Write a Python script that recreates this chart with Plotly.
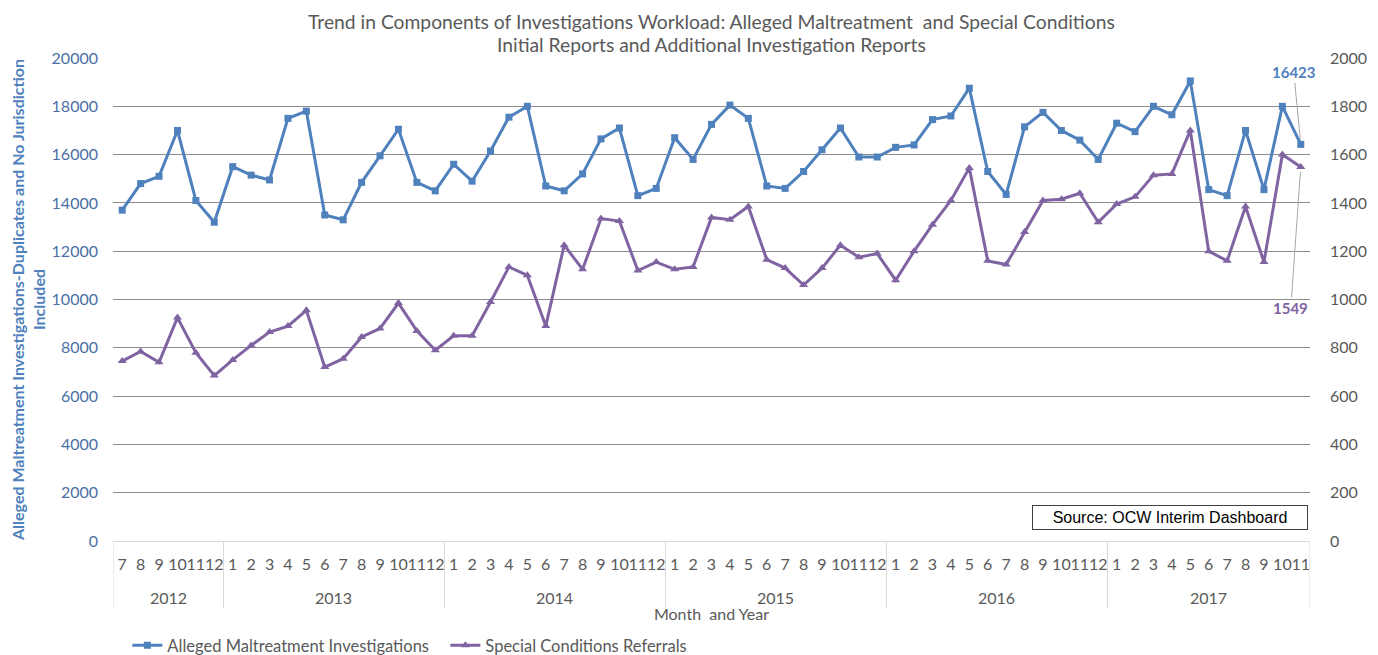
import plotly.graph_objects as go

# ── Data ──────────────────────────────────────────────────────────────────────
years = ["2012"] * 6 + ["2013"] * 12 + ["2014"] * 12 + ["2015"] * 12 + ["2016"] * 12 + ["2017"] * 11
months = [str(m) for m in list(range(7, 13)) + list(range(1, 13)) * 4 + list(range(1, 12))]

investigations = [
    13700, 14800, 15100, 17000, 14100, 13200,
    15500, 15150, 14950, 17500, 17800, 13500, 13300, 14850, 15950, 17050, 14850, 14500,
    15600, 14900, 16150, 17550, 18000, 14700, 14500, 15200, 16650, 17100, 14300, 14600,
    16700, 15800, 17250, 18050, 17500, 14700, 14600, 15300, 16200, 17100, 15900, 15900,
    16300, 16400, 17450, 17600, 18750, 15300, 14350, 17150, 17750, 17000, 16600, 15800,
    17300, 16950, 18000, 17650, 19050, 14550, 14300, 17000, 14550, 18000, 16423,
]
referrals = [
    745, 785, 740, 925, 780, 685,
    750, 810, 865, 890, 955, 720, 755, 845, 880, 985, 870, 790,
    850, 850, 990, 1135, 1100, 890, 1225, 1125, 1335, 1325, 1120, 1155,
    1125, 1135, 1340, 1330, 1385, 1165, 1130, 1060, 1130, 1225, 1175, 1190,
    1080, 1200, 1310, 1410, 1545, 1160, 1145, 1280, 1410, 1415, 1440, 1320,
    1395, 1425, 1515, 1520, 1700, 1200, 1160, 1385, 1155, 1600, 1549,
]

BLUE = "#4F81BD"
PURPLE = "#8064A2"
GRAY = "#595959"
LIGHT = "#d9d9d9"
FONT = "Lato"

idx = list(range(len(months)))

fig = go.Figure()

fig.add_trace(go.Scatter(
    x=idx, y=investigations,
    name="Alleged Maltreatment Investigations",
    mode="lines+markers",
    line=dict(color=BLUE, width=3),
    marker=dict(symbol="square", size=7, color=BLUE),
))
fig.add_trace(go.Scatter(
    x=idx, y=referrals,
    name="Special Conditions Referrals",
    mode="lines+markers", yaxis="y2",
    line=dict(color=PURPLE, width=3),
    marker=dict(symbol="triangle-up", size=8, color=PURPLE),
))

# page body has an 8px margin, so the figure is sized 8px smaller each way
fig.update_layout(
    width=1370, height=647,
    paper_bgcolor="white", plot_bgcolor="white",
    margin=dict(l=105, r=68, t=50, b=114, autoexpand=False),
    font=dict(family=FONT, color=GRAY, size=16),
    xaxis=dict(
        range=[-0.5, len(months) - 0.5], automargin=False,
        tickmode="array", tickvals=idx, ticktext=months, tickangle=0,
        showgrid=False, zeroline=False,
        showline=True, linecolor=LIGHT, linewidth=1,
        ticks="", ticklabelstandoff=9,
        tickfont=dict(family=FONT, size=16, color=GRAY),
        title=dict(text="Month  and Year", font=dict(family=FONT, size=16, color=GRAY), standoff=36),
    ),
    yaxis=dict(
        range=[0, 20000], dtick=2000, tickformat="d", automargin=False,
        showgrid=True, gridcolor="#8c8c8c", gridwidth=1,
        zeroline=False,
        tickfont=dict(family=FONT, size=16, color="#4a6fa5"),
        ticks="", ticklabelstandoff=14,
        title=dict(
            text="Alleged Maltreatment Investigations-Duplicates and No Jurisdiction<br>Included",
            font=dict(family=FONT, size=16, color=BLUE, weight="bold"),
            standoff=10,
        ),
    ),
    yaxis2=dict(
        range=[0, 2000], dtick=200, tickformat="d", automargin=False,
        overlaying="y", side="right",
        showgrid=False, zeroline=False,
        tickfont=dict(family=FONT, size=16, color=GRAY),
        ticks="", ticklabelstandoff=19,
    ),
    legend=dict(
        orientation="h", x=0.012, xanchor="left", y=-0.18, yanchor="top",
        font=dict(family=FONT, size=16.5, color=GRAY),
        entrywidth=273, entrywidthmode="pixels",
    ),
)

# Title (two lines)
fig.add_annotation(
    x=0.5, y=1 + 50 / 483, xref="paper", yref="paper", xanchor="center", yanchor="top",
    text="Trend in Components of Investigations Workload: Alleged Maltreatment  and Special Conditions",
    showarrow=False, font=dict(family=FONT, size=19.3, color=GRAY),
)
fig.add_annotation(
    x=0.5, y=1.027, xref="paper", yref="paper", xanchor="center", yanchor="middle",
    text="Initial Reports and Additional Investigation Reports",
    showarrow=False, font=dict(family=FONT, size=19.3, color=GRAY),
)

# Year group labels and dividers under the month ticks
bounds = [i for i in range(1, len(years)) if years[i] != years[i - 1]]
edges = [-0.5] + [b - 0.5 for b in bounds] + [len(years) - 0.5]
for e in edges:
    fig.add_shape(type="line", xref="x", yref="paper", x0=e, x1=e, y0=0, y1=-0.139,
                  line=dict(color=LIGHT, width=1))
for a, b in zip(edges[:-1], edges[1:]):
    fig.add_annotation(
        x=(a + b) / 2, y=-0.116, xref="x", yref="paper", yanchor="middle",
        text=years[int(a + 0.5)], showarrow=False,
        font=dict(family=FONT, size=16, color=GRAY),
    )

last = len(months) - 1
fig.add_annotation(
    x=last, y=investigations[-1], xref="x", yref="y",
    text="<b>16423</b>", showarrow=True, arrowhead=0, arrowwidth=1, arrowcolor="#a6a6a6",
    ax=-7, ay=-72, standoff=5,
    font=dict(family=FONT, size=15, color=BLUE),
)
fig.add_annotation(
    x=last, y=referrals[-1], xref="x", yref="y2",
    text="<b>1549</b>", showarrow=True, arrowhead=0, arrowwidth=1, arrowcolor="#a6a6a6",
    ax=-10, ay=141, standoff=5,
    font=dict(family=FONT, size=15, color=PURPLE),
)
fig.add_annotation(
    x=0.9985, y=0.022, xref="paper", yref="paper",
    xanchor="right", yanchor="bottom",
    text="Source: OCW Interim Dashboard", showarrow=False,
    font=dict(family="Liberation Sans", size=16, color="black"),
    bordercolor="#404040", borderwidth=1, borderpad=3, bgcolor="white",
    width=268,
)

fig.write_html("out.html")
